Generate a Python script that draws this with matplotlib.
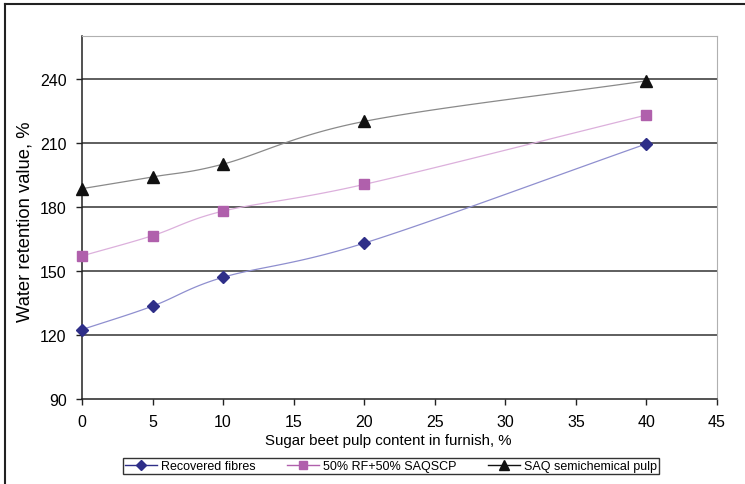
import numpy as np
import matplotlib.pyplot as plt

plt.rcParams['font.family'] = ['Liberation Sans', 'DejaVu Sans']

x = [0, 5, 10, 20, 40]
recovered = [122.5, 133.5, 147, 163, 209.5]
rf_mix = [157, 166.5, 178, 190.5, 223]
saq = [188.5, 194, 200, 220, 239]


def smooth(xs, ys, n=30):
    # Catmull-Rom style curve through the points, like Excel's smoothed line
    xs = np.asarray(xs, float)
    ys = np.asarray(ys, float)
    px = np.concatenate([[2 * xs[0] - xs[1]], xs, [2 * xs[-1] - xs[-2]]])
    py = np.concatenate([[2 * ys[0] - ys[1]], ys, [2 * ys[-1] - ys[-2]]])
    ox, oy = [], []
    t = np.linspace(0, 1, n)
    for i in range(1, len(px) - 2):
        p0, p1, p2, p3 = [np.array([px[j], py[j]]) for j in range(i - 1, i + 3)]
        c1 = p1 + (p2 - p0) / 6
        c2 = p2 - (p3 - p1) / 6
        pts = ((1 - t) ** 3)[:, None] * p1 + (3 * (1 - t) ** 2 * t)[:, None] * c1 \
            + (3 * (1 - t) * t ** 2)[:, None] * c2 + (t ** 3)[:, None] * p2
        ox.extend(pts[:, 0])
        oy.extend(pts[:, 1])
    return ox, oy


fig = plt.figure(figsize=(7.45, 4.85), dpi=100)
ax = fig.add_axes([82 / 745, 85 / 485, 635 / 745, 363 / 485])

series = [
    (recovered, 'Recovered fibres', '#2e2e88', '#8f8fcf', 'D', 6),
    (rf_mix, '50% RF+50% SAQSCP', '#b060ac', '#dcb0dc', 's', 7),
    (saq, 'SAQ semichemical pulp', '#111111', '#8a8a8a', '^', 8),
]
handles = []
for ys, label, mc, lc, mk, ms in series:
    sx, sy = smooth(x, ys)
    ax.plot(sx, sy, color=lc, lw=0.9, zorder=3)
    ax.plot(x, ys, linestyle='none', marker=mk, color=mc, markersize=ms, zorder=4, clip_on=False)
    h, = ax.plot([], [], color=mc, lw=1, marker=mk, markersize=ms - 1)
    handles.append((h, label))

ax.set_xlim(0, 45)
ax.set_ylim(90, 260)
ax.set_xticks(range(0, 50, 5))
ax.set_yticks(range(90, 270, 30))
for yv in range(120, 270, 30):
    ax.axhline(yv, color='#333333', lw=1.1, zorder=1)

for s in ['top', 'right']:
    ax.spines[s].set_color('#b0b0b0')
for s in ['left', 'bottom']:
    ax.spines[s].set_color('#222222')
    ax.spines[s].set_linewidth(1.1)
ax.tick_params(direction='out', length=4, width=1, labelsize=11.5, pad=7, color='#222222')

ax.set_xlabel('Sugar beet pulp content in furnish, %', fontsize=10.8)
ax.set_ylabel('Water retention value, %', fontsize=13.2)
ax.xaxis.set_label_coords(0.483, -0.095)
ax.yaxis.set_label_coords(-0.076, 0.49)

leg = fig.legend([h for h, _ in handles], [l for _, l in handles], ncol=3,
                 loc='center', bbox_to_anchor=(391 / 745, 1 - 467 / 485),
                 fontsize=9, frameon=True, fancybox=False, edgecolor='black',
                 handlelength=2.6, columnspacing=2.5, borderpad=0.15, handletextpad=0.3)
leg.get_frame().set_linewidth(1)

# outer frame of the chart area
fig.add_artist(plt.Line2D([5 / 745, 5 / 745], [0, 1 - 5 / 485], color='#222222', lw=1.5))
fig.add_artist(plt.Line2D([5 / 745, 1], [1 - 5 / 485, 1 - 5 / 485], color='#222222', lw=1.5))

fig.savefig('out.png', dpi=100)
